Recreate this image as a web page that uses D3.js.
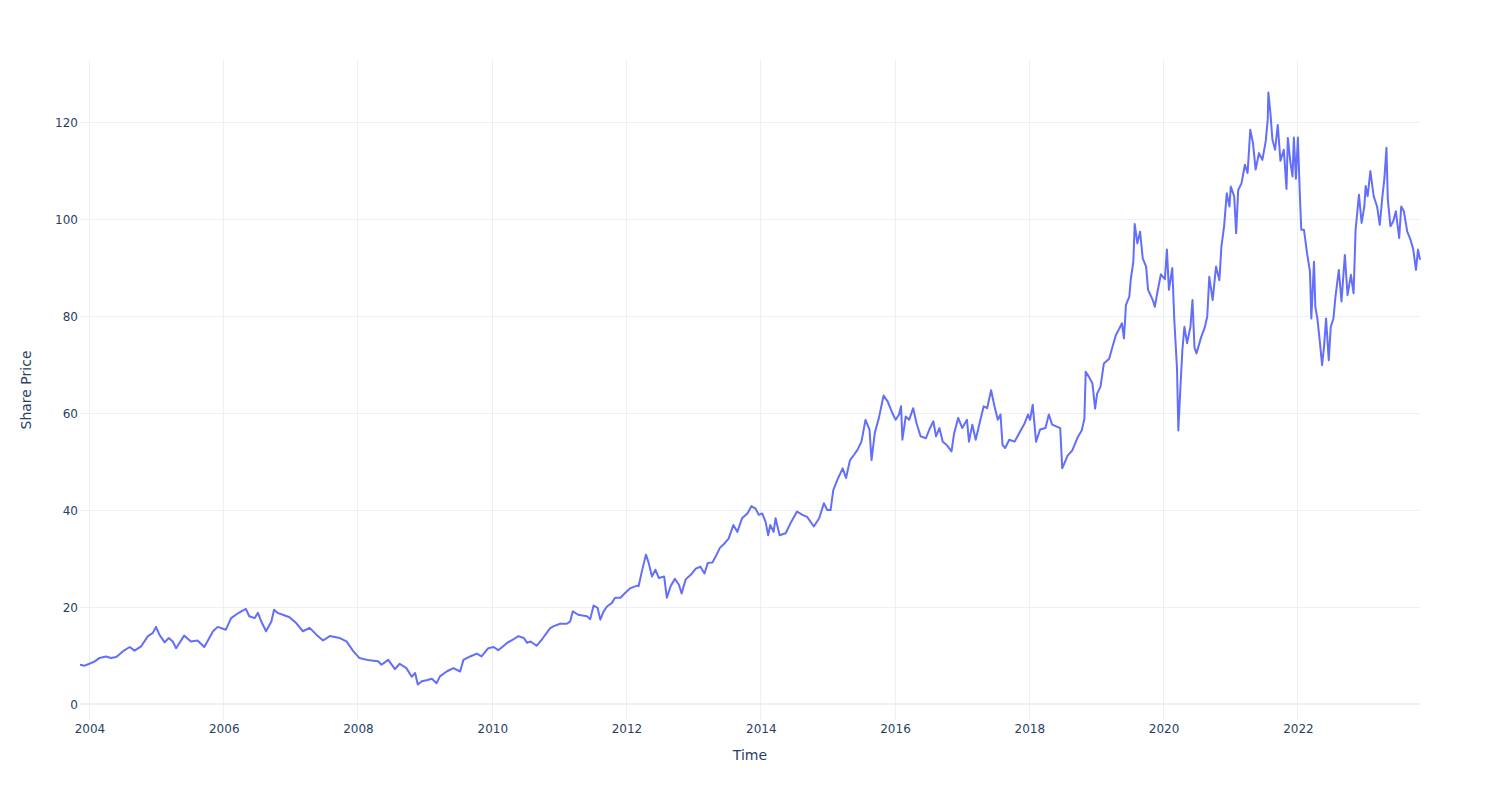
<!DOCTYPE html>
<html>
<head>
<meta charset="utf-8">
<script src="https://cdn.jsdelivr.net/npm/d3@7"></script>
<style>
  html, body { margin: 0; padding: 0; background: #fff; }
  svg { display: block; font-family: "DejaVu Sans", Verdana, Arial, sans-serif; }
</style>
</head>
<body>
<svg id="chart" width="1500" height="800"></svg>
<script>
// Decimal-year time stamps
const dates = [
 2003.86,2003.93,2004.00,2004.08,2004.15,2004.25,2004.32,2004.40,2004.50,2004.60,2004.67,2004.77,2004.87,2004.94,2004.99,
 2005.04,2005.12,2005.18,2005.24,2005.29,2005.41,2005.51,2005.61,2005.71,2005.84,2005.91,
 2006.03,2006.11,2006.18,2006.26,2006.33,2006.38,2006.46,2006.51,2006.56,2006.63,2006.71,2006.75,2006.80,2006.88,2006.98,
 2007.08,2007.18,2007.28,2007.38,2007.48,2007.58,2007.73,2007.83,2007.93,
 2008.02,2008.17,2008.30,2008.35,2008.45,2008.55,2008.62,2008.72,2008.80,2008.85,2008.89,2008.95,
 2009.02,2009.10,2009.17,2009.22,2009.32,2009.42,2009.52,2009.57,2009.67,2009.77,2009.84,2009.94,
 2010.02,2010.09,2010.22,2010.32,2010.39,2010.47,2010.52,2010.57,2010.66,2010.75,2010.86,2010.91,
 2011.01,2011.11,2011.16,2011.20,2011.28,2011.41,2011.46,2011.51,2011.57,2011.61,2011.66,2011.71,2011.78,2011.83,2011.91,2011.98,
 2012.06,2012.16,2012.18,2012.23,2012.29,2012.33,2012.38,2012.43,2012.48,2012.56,2012.60,2012.66,2012.72,2012.78,2012.82,2012.88,2012.96,
 2013.03,2013.10,2013.16,2013.21,2013.28,2013.33,2013.39,2013.45,2013.52,2013.59,2013.65,2013.72,2013.80,2013.86,2013.92,2013.97,
 2014.02,2014.07,2014.11,2014.14,2014.19,2014.22,2014.28,2014.37,2014.44,2014.54,2014.62,2014.69,2014.79,2014.87,2014.94,2014.99,
 2015.04,2015.08,2015.14,2015.22,2015.27,2015.33,2015.39,2015.44,2015.50,2015.56,2015.62,2015.65,2015.70,2015.76,2015.83,2015.89,2015.96,
 2016.01,2016.06,2016.09,2016.11,2016.16,2016.21,2016.27,2016.32,2016.38,2016.46,2016.51,2016.57,2016.61,2016.66,2016.71,2016.77,2016.84,2016.88,2016.94,
 2017.00,2017.07,2017.10,2017.15,2017.20,2017.27,2017.32,2017.37,2017.43,2017.48,2017.53,2017.57,2017.60,2017.64,2017.70,2017.78,2017.85,2017.93,2017.98,
 2018.01,2018.05,2018.10,2018.16,2018.24,2018.29,2018.34,2018.41,2018.46,2018.49,2018.57,2018.64,2018.72,2018.78,2018.82,2018.84,2018.89,2018.94,2018.98,
 2019.01,2019.06,2019.11,2019.19,2019.24,2019.29,2019.34,2019.38,2019.41,2019.44,2019.49,2019.51,2019.55,2019.57,2019.61,2019.65,2019.69,2019.74,2019.77,2019.84,2019.87,2019.91,2019.96,
 2020.02,2020.05,2020.08,2020.13,2020.16,2020.20,2020.22,2020.25,2020.28,2020.31,2020.35,2020.40,2020.43,2020.46,2020.49,2020.56,2020.61,2020.65,2020.68,2020.73,2020.78,2020.83,2020.86,2020.90,2020.94,2020.98,
 2021.00,2021.05,2021.08,2021.11,2021.16,2021.21,2021.25,2021.29,2021.33,2021.37,2021.42,2021.47,2021.52,2021.55,2021.56,2021.59,2021.62,2021.66,2021.70,2021.74,2021.79,2021.83,2021.85,2021.89,2021.92,2021.94,2021.97,
 2022.00,2022.03,2022.05,2022.09,2022.14,2022.18,2022.20,2022.24,2022.26,2022.29,2022.33,2022.36,2022.39,2022.42,2022.46,2022.49,2022.53,2022.56,2022.61,2022.65,2022.70,2022.74,2022.79,2022.83,2022.86,2022.91,2022.95,2022.99,
 2023.01,2023.04,2023.08,2023.13,2023.18,2023.22,2023.26,2023.29,2023.32,2023.34,2023.38,2023.42,2023.46,2023.51,2023.54,2023.58,2023.63,2023.68,2023.72,2023.76,2023.79,2023.82
];
// Share prices
const prices = [
 8.1,7.9,8.3,8.8,9.5,9.8,9.5,9.7,10.9,11.75,11.0,11.9,14.0,14.6,15.9,
 14.3,12.7,13.6,12.9,11.5,14.1,12.9,13.1,11.75,15.0,15.9,
 15.3,17.7,18.4,19.1,19.6,18.1,17.7,18.8,17.0,15.0,17.0,19.45,18.8,18.4,17.9,
 16.7,15.0,15.7,14.3,13.1,14.0,13.6,12.9,10.9,
 9.5,9.0,8.8,8.1,9.1,7.2,8.3,7.4,5.6,6.4,4.0,4.7,
 4.9,5.2,4.3,5.7,6.7,7.4,6.7,9.1,9.8,10.4,9.8,11.5,
 11.75,11.1,12.6,13.4,14.0,13.6,12.6,12.9,12.0,13.5,15.6,16.0,
 16.55,16.55,17.0,19.1,18.4,18.1,17.5,20.3,19.8,17.4,19.1,20.1,20.8,21.9,21.9,22.9,
 23.9,24.4,24.3,27.4,30.8,29.1,26.3,27.7,26.0,26.3,21.9,24.4,25.8,24.6,22.8,25.7,26.7,
 27.9,28.3,26.9,29.1,29.2,30.5,32.2,33.0,34.1,36.9,35.5,38.3,39.3,40.8,40.3,39.0,
 39.3,37.6,34.8,36.9,35.5,38.3,34.8,35.2,37.2,39.7,39.0,38.6,36.6,38.3,41.4,40.0,
 40.0,44.1,46.2,48.6,46.6,50.3,51.4,52.4,54.1,58.6,56.6,50.3,56.0,59.0,63.6,62.4,60.0,
 58.6,59.7,61.4,54.5,59.3,58.6,61.0,57.9,55.2,54.8,56.6,58.3,55.2,56.9,54.1,53.4,52.1,55.9,59.0,
 56.9,58.6,54.1,57.6,54.5,58.6,61.4,61.0,64.7,61.4,58.6,59.7,53.4,52.8,54.5,54.1,55.9,57.9,59.7,
 58.6,61.7,54.1,56.6,56.9,59.7,57.6,57.2,56.9,48.6,51.2,52.3,55.0,56.4,58.8,68.5,67.4,66.1,60.9,
 64.0,65.4,70.2,71.2,73.7,76.1,77.4,78.5,75.4,82.3,84.0,87.4,91.2,99.0,95.0,97.4,91.9,90.2,85.4,83.3,81.9,85.0,88.6,
 87.6,93.7,85.4,89.9,79.2,69.2,56.4,65.0,73.0,77.8,74.4,77.8,83.3,73.5,72.3,75.7,77.5,79.9,88.1,83.3,90.2,87.4,94.3,98.5,105.3,102.6,
 106.7,104.7,97.1,106.0,107.4,111.2,109.5,118.4,115.7,110.2,113.6,112.2,116.0,120.5,126.1,121.9,116.4,114.3,119.4,112.0,114.3,106.2,116.7,111.5,108.8,116.8,108.3,
 116.8,104.7,97.8,97.8,92.6,89.2,79.5,91.2,81.9,79.5,74.3,69.9,73.7,79.5,70.9,77.8,79.5,84.0,89.5,83.0,92.6,84.3,88.5,84.7,97.8,105.0,99.2,102.6,
 106.8,104.7,109.9,104.7,102.6,98.8,104.7,108.5,114.7,104.0,98.5,99.5,101.6,96.1,102.6,101.6,97.4,95.7,93.7,89.5,93.7,91.6
];
const yTicks = [0, 20, 40, 60, 80, 100, 120];
const xTickYears = [2004, 2006, 2008, 2010, 2012, 2014, 2016, 2018, 2020, 2022];
const xTitle = "Time";
const yTitle = "Share Price";

function toDate(y) {
  const yr = Math.floor(y);
  const a = Date.UTC(yr, 0, 1), b = Date.UTC(yr + 1, 0, 1);
  return new Date(a + (y - yr) * (b - a));
}
const data = dates.map((d, i) => ({ t: toDate(d), v: prices[i] }));

const W = 1500, H = 800;
const m = { l: 80, r: 80, t: 60, b: 80 };
const FONT = '"DejaVu Sans", Verdana, Arial, sans-serif';
const svg = d3.select("#chart");
svg.append("rect").attr("width", W).attr("height", H).attr("fill", "#fff");

const x = d3.scaleUtc().domain(d3.extent(data, d => d.t)).range([m.l, W - m.r]);
const y = d3.scaleLinear().domain([-3.3, 132.8]).range([H - m.b, m.t]);

const grid = "#EBF0F8";
const textCol = "#2a3f5f";

// vertical grid
const xTickDates = xTickYears.map(yr => new Date(Date.UTC(yr, 0, 1)));
svg.append("g").selectAll("line").data(xTickDates).join("line")
  .attr("x1", d => x(d)).attr("x2", d => x(d))
  .attr("y1", m.t).attr("y2", H - m.b)
  .attr("stroke", grid).attr("stroke-width", 1).attr("shape-rendering", "crispEdges");

// horizontal grid
svg.append("g").selectAll("line").data(yTicks.filter(v => v !== 0)).join("line")
  .attr("x1", m.l).attr("x2", W - m.r)
  .attr("y1", d => y(d)).attr("y2", d => y(d))
  .attr("stroke", grid).attr("stroke-width", 1).attr("shape-rendering", "crispEdges");

// zero line
svg.append("line")
  .attr("x1", m.l).attr("x2", W - m.r)
  .attr("y1", y(0)).attr("y2", y(0))
  .attr("stroke", grid).attr("stroke-width", 2);

// axes via d3 axis generators (styled like plotly)
const xAxis = d3.axisBottom(x).tickValues(xTickDates).tickFormat(d3.utcFormat("%Y")).tickSize(0).tickPadding(0);
const gx = svg.append("g").attr("transform", `translate(0,${H - m.b})`).call(xAxis)
  .attr("font-family", FONT).attr("font-size", 12);
gx.select(".domain").remove();
gx.selectAll("text").attr("fill", textCol).attr("font-size", 12).attr("dy", null)
  .attr("y", 9).attr("dominant-baseline", "middle");

const yAxis = d3.axisLeft(y).tickValues(yTicks).tickSize(0).tickPadding(0);
const gy = svg.append("g").attr("transform", `translate(${m.l - 2},0)`).call(yAxis)
  .attr("font-family", FONT).attr("font-size", 12);
gy.select(".domain").remove();
gy.selectAll("text").attr("fill", textCol).attr("font-size", 12).attr("dy", "0.35em").attr("x", 0);

// line
const line = d3.line().x(d => x(d.t)).y(d => y(d.v));
svg.append("path").datum(data)
  .attr("d", line)
  .attr("fill", "none")
  .attr("stroke", "#636efa")
  .attr("stroke-width", 2)
  .attr("stroke-linejoin", "round");

// titles
svg.append("text").attr("x", (m.l + W - m.r) / 2).attr("y", 756)
  .attr("text-anchor", "middle").attr("dominant-baseline", "middle")
  .attr("fill", textCol).attr("font-size", 14).text(xTitle);
svg.append("text")
  .attr("transform", `translate(27,${(m.t + H - m.b) / 2}) rotate(-90)`)
  .attr("text-anchor", "middle").attr("dominant-baseline", "middle")
  .attr("fill", textCol).attr("font-size", 14).text(yTitle);
</script>
</body>
</html>
